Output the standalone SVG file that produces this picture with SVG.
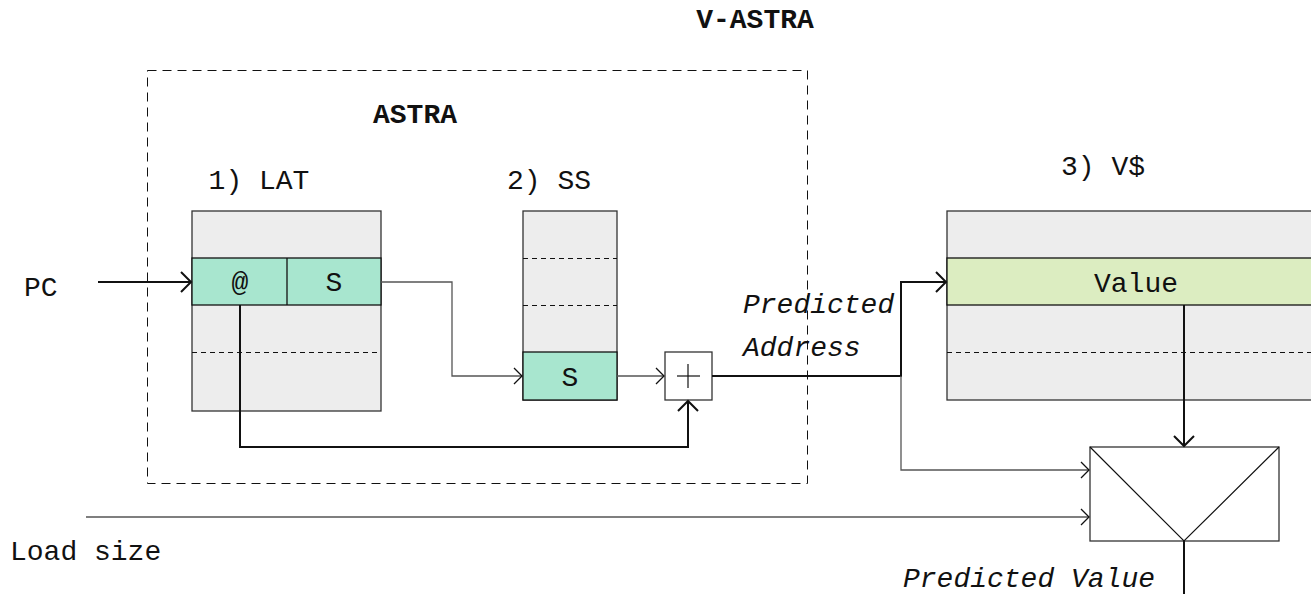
<svg xmlns="http://www.w3.org/2000/svg" width="1311" height="594" viewBox="0 0 1311 594">
<style>
text{font-family:"Liberation Mono","DejaVu Sans Mono",monospace;font-size:28px;fill:#111}
.b{font-weight:bold}
.i{font-style:italic}
.m{text-anchor:middle}
.box{fill:#ededed;stroke:#333;stroke-width:1.3}
.g{fill:#a8e6cf;stroke:#111;stroke-width:1.3}
.v{fill:#dcedc1;stroke:#111;stroke-width:1.3}
.dash{stroke:#111;stroke-width:1;stroke-dasharray:5,4;fill:none}
.outer{stroke:#111;stroke-width:1;stroke-dasharray:9,6;fill:none}
.thin{stroke:#555;stroke-width:1.3;fill:none}
.thick{stroke:#111;stroke-width:2;fill:none}
</style>
<defs>
<marker id="at" viewBox="-10 -10 12 20" markerWidth="12" markerHeight="20" refX="0" refY="0" orient="auto" markerUnits="userSpaceOnUse">
<path d="M-8,-8 L0,0 L-8,8" fill="none" stroke="#111" stroke-width="1.3"/>
</marker>
<marker id="ak" viewBox="-12 -12 14 24" markerWidth="14" markerHeight="24" refX="0" refY="0" orient="auto" markerUnits="userSpaceOnUse">
<path d="M-10,-10 L0,0 L-10,10" fill="none" stroke="#111" stroke-width="2"/>
</marker>
</defs>
<text class="b m" x="755" y="28">V-ASTRA</text>
<g id="astra">
<rect x="147.5" y="70.5" width="660" height="413" class="outer"/>
<text class="b m" x="415" y="123">ASTRA</text>
</g>
<g id="lat">
<text class="m" x="259" y="189">1) LAT</text>
<rect x="192" y="211" width="189" height="200" class="box"/>
<rect x="192" y="258" width="189" height="47" class="g"/>
<line x1="287" y1="258" x2="287" y2="305" stroke="#111" stroke-width="1.3"/>
<line x1="192" y1="352.5" x2="381" y2="352.5" class="dash"/>
<text class="m" x="240" y="291">@</text>
<text class="m" x="334" y="291">S</text>
</g>
<g id="ss">
<text class="m" x="549" y="189">2) SS</text>
<rect x="523" y="211" width="94" height="189" class="box"/>
<line x1="523" y1="258.5" x2="617" y2="258.5" class="dash"/>
<line x1="523" y1="305.5" x2="617" y2="305.5" class="dash"/>
<rect x="523" y="352" width="94" height="48" class="g"/>
<text class="m" x="570" y="386">S</text>
</g>
<g id="plus">
<rect x="665" y="352" width="47" height="48" fill="#fff" stroke="#333" stroke-width="1.3"/>
<line x1="677" y1="376" x2="700" y2="376" stroke="#111" stroke-width="1.2"/>
<line x1="688" y1="364" x2="688" y2="388" stroke="#111" stroke-width="1.2"/>
</g>
<g id="vcache">
<text class="m" x="1103" y="175">3) V$</text>
<rect x="947" y="211" width="370" height="189" class="box"/>
<rect x="947" y="258" width="370" height="47" class="v"/>
<line x1="947" y1="352.5" x2="1317" y2="352.5" class="dash"/>
<text class="m" x="1136" y="292">Value</text>
</g>
<g id="mux">
<rect x="1090" y="447" width="189" height="94" fill="#fff" stroke="#333" stroke-width="1.3"/>
<path d="M1090,447 L1184,541 L1279,447" fill="none" stroke="#111" stroke-width="1.2"/>
</g>
<g id="labels">
<text x="24" y="296">PC</text>
<text class="i" x="743" y="313">Predicted</text>
<text class="i" x="743" y="356">Address</text>
<text class="i" x="903" y="587">Predicted Value</text>
<text x="10" y="560">Load size</text>
</g>
<g id="connectors">
<line x1="98" y1="282" x2="191" y2="282" class="thick" marker-end="url(#ak)"/>
<path d="M381,282 H452 V376 H522" class="thin" marker-end="url(#at)"/>
<line x1="617" y1="376" x2="664" y2="376" class="thin" marker-end="url(#at)"/>
<path d="M240,305 V447 H688 V401" class="thick" marker-end="url(#ak)"/>
<path d="M712,376 H901 V282 H946" class="thick" marker-end="url(#ak)"/>
<path d="M901,376 V470 H1089" class="thin" marker-end="url(#at)"/>
<line x1="86" y1="517" x2="1089" y2="517" class="thin" marker-end="url(#at)"/>
<line x1="1184" y1="305" x2="1184" y2="446" class="thick" marker-end="url(#ak)"/>
<line x1="1184" y1="541" x2="1184" y2="594" class="thick"/>
</g>
</svg>
